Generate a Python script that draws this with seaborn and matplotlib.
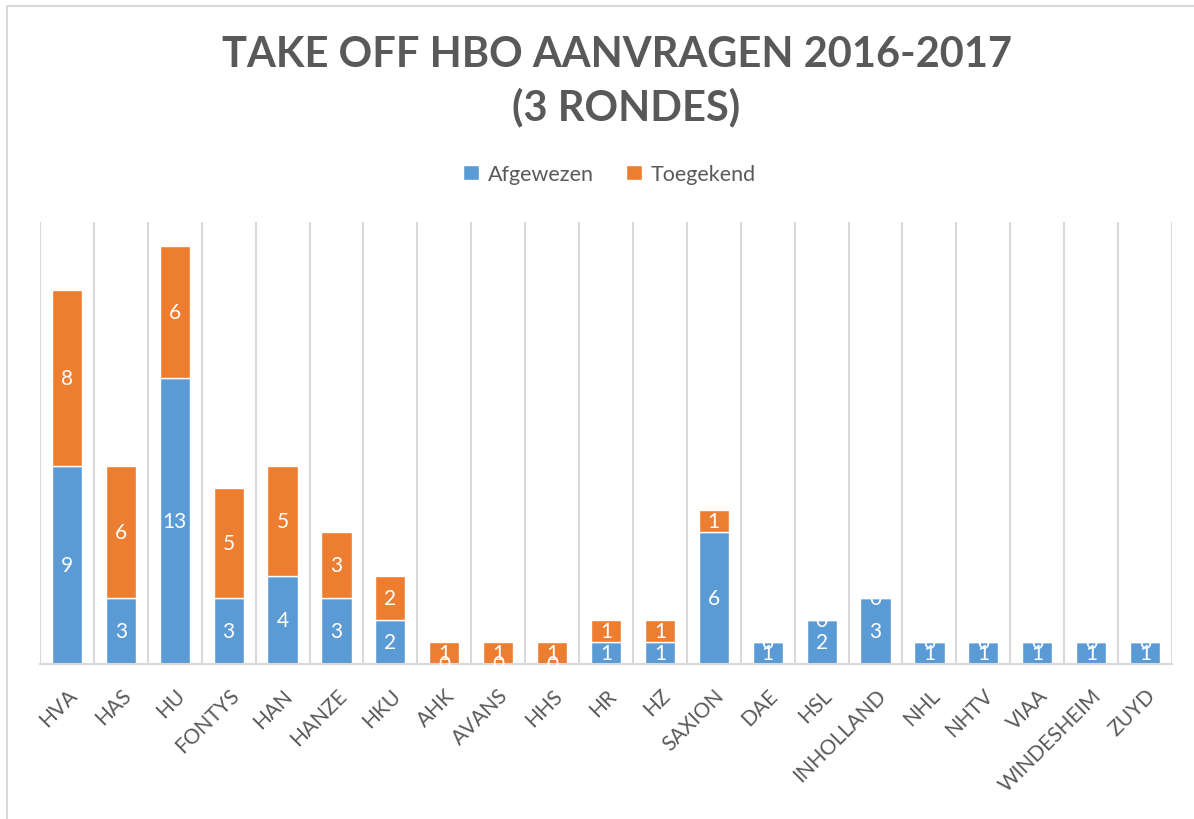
import matplotlib
matplotlib.use("Agg")
import matplotlib.pyplot as plt
import seaborn as sns
import pandas as pd

schools = ["HVA", "HAS", "HU", "FONTYS", "HAN", "HANZE", "HKU", "AHK", "AVANS", "HHS",
           "HR", "HZ", "SAXION", "DAE", "HSL", "INHOLLAND", "NHL", "NHTV", "VIAA",
           "WINDESHEIM", "ZUYD"]
afgewezen = [9, 3, 13, 3, 4, 3, 2, 0, 0, 0, 1, 1, 6, 1, 2, 3, 1, 1, 1, 1, 1]
toegekend = [8, 6, 6, 5, 5, 3, 2, 1, 1, 1, 1, 1, 1, 0, 0, 0, 0, 0, 0, 0, 0]

df = pd.DataFrame({"school": schools, "Afgewezen": afgewezen, "Toegekend": toegekend})

sns.set_style("white")
plt.rcParams["font.family"] = ["Lato", "DejaVu Sans"]

blue = "#5B9BD5"
orange = "#ED7D31"
grey = "#595959"
gridc = "#D9D9D9"

fig = plt.figure(figsize=(11.94, 8.2), dpi=100)
ax = fig.add_axes([40 / 1194, 1 - 665 / 820, (1172 - 40) / 1194, (665 - 223) / 820])

sns.barplot(data=df, x="school", y="Afgewezen", color=blue, width=0.56,
            saturation=1, ax=ax, label="Afgewezen", zorder=2)
sns.barplot(data=df, x="school", y="Toegekend", bottom=df["Afgewezen"], color=orange,
            width=0.56, saturation=1, ax=ax, label="Toegekend", zorder=2)

# data labels, zeros included like the Excel original
for c in ax.containers:
    ax.bar_label(c, label_type="center", color="white", fontsize=15)

ax.set_ylim(0, 20.1)
ax.set_xlim(-0.5, len(schools) - 0.5)
ax.set_yticks([])
ax.set_xlabel("")
ax.set_ylabel("")

# vertical gridlines between categories
for i in range(len(schools) + 1):
    ax.axvline(i - 0.5, color=gridc, lw=1.5, zorder=0)

for s in ["top", "right", "left"]:
    ax.spines[s].set_visible(False)
ax.spines["bottom"].set_color(gridc)
ax.spines["bottom"].set_linewidth(1.5)

ax.tick_params(axis="x", length=0, pad=15, labelsize=15, labelcolor=grey)
plt.setp(ax.get_xticklabels(), rotation=45, ha="right", rotation_mode="anchor")

ax.legend(loc="upper center", bbox_to_anchor=(0.503, 1.175), ncol=2, frameon=False,
          fontsize=15.5, labelcolor=grey, handlelength=0.75, handleheight=0.75,
          columnspacing=1.5, handletextpad=0.4)

fig.text(617 / 1194, 1 - 55 / 820, "TAKE OFF HBO AANVRAGEN 2016-2017", ha="center",
         va="center", fontsize=30, fontweight="bold", color=grey)
fig.text(626 / 1194, 1 - 107 / 820, "(3 RONDES)", ha="center", va="center",
         fontsize=30, fontweight="bold", color=grey)

# chart area border (left and top edges visible)
fig.add_artist(plt.Line2D([7 / 1194, 7 / 1194], [0, 1 - 7 / 820], color=gridc, lw=1.5))
fig.add_artist(plt.Line2D([7 / 1194, 1], [1 - 7 / 820, 1 - 7 / 820], color=gridc, lw=1.5))

fig.savefig("out.png", dpi=100)
